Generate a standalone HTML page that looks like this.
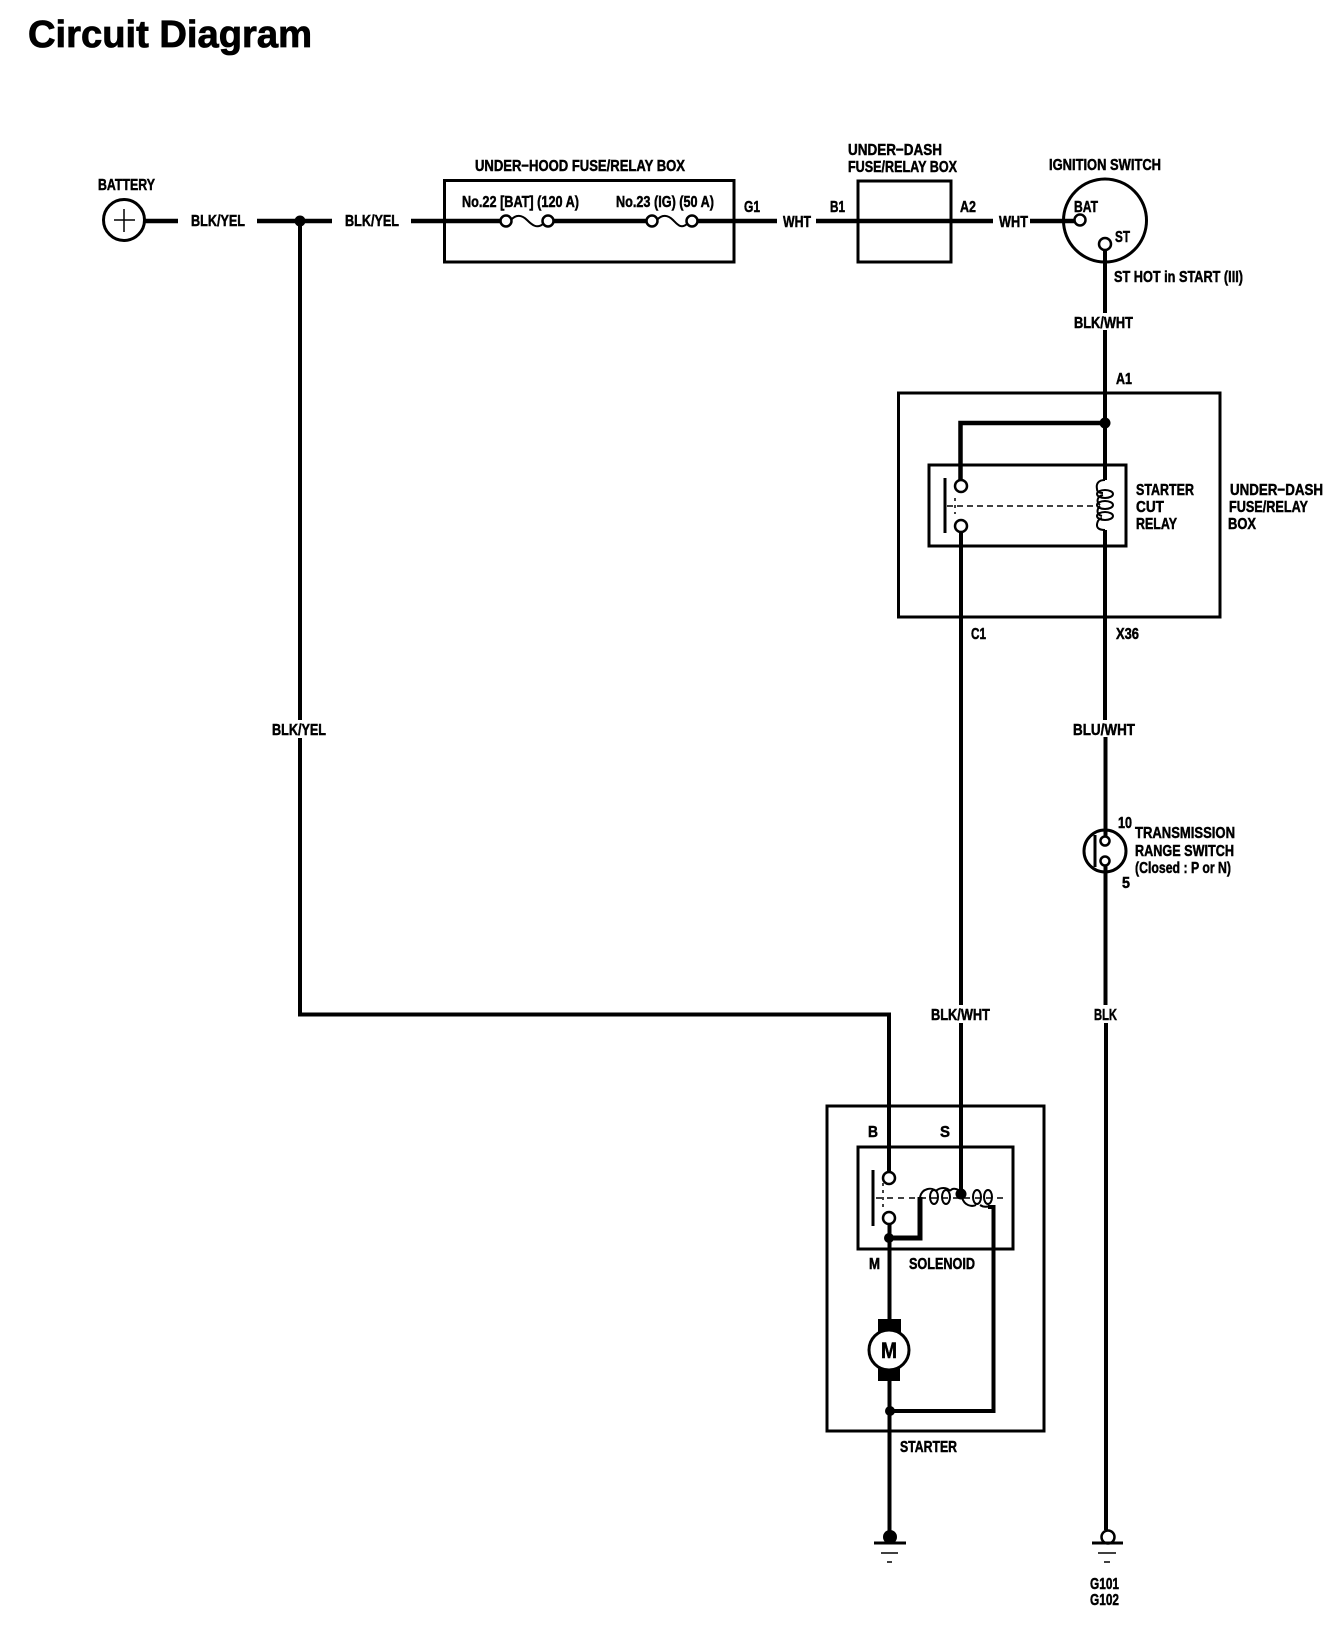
<!DOCTYPE html>
<html>
<head>
<meta charset="utf-8">
<style>
html,body{margin:0;padding:0;background:#fff;width:1344px;height:1646px;overflow:hidden}
svg{display:block}
text{font-family:"Liberation Sans",sans-serif;font-weight:700;font-size:16px;fill:#000;stroke:#000;stroke-width:.5}
.w{stroke:#000;stroke-width:4;fill:none}
.b{stroke:#000;stroke-width:3;fill:none}
.t{stroke:#000;stroke-width:2;fill:none}
.c{stroke:#000;stroke-width:2.5;fill:#fff}
.d{fill:#000}
</style>
</head>
<body>
<svg width="1344" height="1646" viewBox="0 0 1344 1646" xmlns="http://www.w3.org/2000/svg">
<rect width="1344" height="1646" fill="#fff"/>
<text x="28" y="47" style="font-size:38px;stroke-width:.8" textLength="284" lengthAdjust="spacingAndGlyphs">Circuit Diagram</text>

<!-- boxes -->
<rect class="b" x="444.5" y="180.500" width="289.5" height="81.500"/>
<rect class="b" x="858" y="181" width="93" height="81"/>
<circle class="b" cx="1105" cy="220.5" r="41.5"/>
<rect class="b" x="898.500" y="393" width="321.500" height="224"/>
<rect class="b" x="929" y="465" width="197" height="81"/>
<rect class="b" x="827" y="1106" width="217" height="325"/>
<rect class="b" x="858" y="1147" width="155" height="102"/>

<!-- battery -->
<circle class="b" cx="124" cy="220" r="20.5"/>
<path stroke="#000" stroke-width="1.5" fill="none" d="M114 220H135M124 209V232"/>

<!-- top main wire -->
<path stroke="#000" stroke-width="4.500" fill="none" d="M145 221H178M257 221H332M411 221H501M553 221H646M697 221H777M816 221H993M1030 221H1075"/>
<circle class="d" cx="300" cy="221" r="5.500"/>
<circle class="c" cx="506" cy="221" r="5.5"/>
<circle class="c" cx="548" cy="221" r="5.5"/>
<path class="t" stroke-width="2.5" d="M511 220C516 214 522 215 527 220S537 229 543 224"/>
<circle class="c" cx="652" cy="221" r="5.5"/>
<circle class="c" cx="692" cy="221" r="5.5"/>
<path class="t" stroke-width="2.5" d="M657 220C662 214 668 215 673 220S681 229 687 224"/>

<!-- long BLK/YEL -->
<path class="w" d="M300 221V720M300 738V1014.500H889V1173"/>

<!-- ignition -->
<circle class="c" cx="1080" cy="220" r="5.5"/>
<circle class="c" cx="1105" cy="244" r="6"/>
<path class="w" d="M1105 250V313M1105 330V480"/>

<!-- relay -->
<path stroke="#000" stroke-width="4.500" fill="none" d="M1105 423H960.500V481"/>
<circle class="d" cx="1105" cy="423" r="5.5"/>
<circle class="c" cx="961" cy="486" r="6"/>
<circle class="c" cx="961" cy="526" r="6"/>
<path class="b" d="M945 478V533"/>
<path stroke="#000" stroke-width="1.5" fill="none" stroke-dasharray="6 4" d="M947 506H1097"/>
<path stroke="#000" stroke-width="1.5" fill="none" stroke-dasharray="3 4" d="M955 498V514"/>
<path class="t" d="M1105 480C1098 480 1096 484 1097 489C1097 492 1099 493 1103 493M1103 495C1097 496 1096 502 1100 505M1100 506C1096 510 1097 515 1102 516M1102 518C1097 519 1096 526 1098 528C1100 530 1103 530 1105 530"/>
<ellipse class="t" cx="1105" cy="494" rx="8" ry="4"/>
<ellipse class="t" cx="1105" cy="505" rx="8" ry="4"/>
<ellipse class="t" cx="1105" cy="516" rx="8" ry="4"/>
<path class="w" d="M1105 530V720M1105.500 737V836M1105.500 866V1005M1106 1023V1530"/>
<path class="w" d="M961 532V1005M961 1023V1194"/>

<!-- transmission switch -->
<circle class="b" cx="1105" cy="851" r="21"/>
<path class="b" d="M1095 835V867"/>
<circle class="c" cx="1105" cy="841" r="4.500"/>
<circle class="c" cx="1105" cy="861" r="4.500"/>

<!-- solenoid -->
<circle class="c" cx="889" cy="1178" r="6"/>
<circle class="c" cx="889" cy="1218" r="6"/>
<path class="b" d="M873 1170V1226"/>
<path stroke="#000" stroke-width="1.5" fill="none" stroke-dasharray="6 5" d="M876 1198H1003"/>
<path stroke="#000" stroke-width="1.5" fill="none" stroke-dasharray="3 4" d="M883 1183V1211"/>
<path stroke="#000" stroke-width="5" fill="none" d="M889 1238H920V1197"/>
<path class="w" d="M889.500 1224V1319M889.500 1381V1532"/>
<circle class="d" cx="889" cy="1238" r="5"/>
<circle class="d" cx="961" cy="1194" r="5.500"/>
<path class="t" d="M920 1197C922 1188 932 1187 936 1191M936 1191C940 1187 947 1187 950 1191M950 1191C953 1187 959 1189 961 1193M962 1197C964 1206 972 1207 976 1205M980 1205C983 1207 987 1207 990 1206"/>
<ellipse class="t" cx="934" cy="1197" rx="4" ry="7"/>
<ellipse class="t" cx="946" cy="1197" rx="4" ry="7"/>
<ellipse class="t" cx="977" cy="1197" rx="4" ry="7"/>
<ellipse class="t" cx="988" cy="1197" rx="4" ry="7"/>
<path class="w" d="M988 1207H993.500V1411H890"/>
<circle class="d" cx="890" cy="1411" r="5"/>

<!-- motor -->
<rect class="d" x="878" y="1319" width="23" height="14"/>
<rect class="d" x="878" y="1367" width="22" height="14"/>
<circle cx="889" cy="1350" r="20" fill="#fff" stroke="#000" stroke-width="3"/>
<text x="881" y="1358" style="font-size:22px" textLength="16" lengthAdjust="spacingAndGlyphs">M</text>

<!-- grounds -->
<circle class="d" cx="890" cy="1537" r="7"/>
<circle class="c" cx="1108" cy="1537" r="6.500"/>
<path class="b" d="M874 1543H906M1092 1543H1123"/>
<path stroke="#000" stroke-width="1.5" fill="none" d="M881 1553H898M887 1562H892M1098 1553H1116M1104 1562H1110"/>

<!-- labels -->
<g transform="translate(0,-1)">
<text x="98" y="191" textLength="57" lengthAdjust="spacingAndGlyphs">BATTERY</text>
<text x="191" y="227" textLength="54" lengthAdjust="spacingAndGlyphs">BLK/YEL</text>
<text x="345" y="227" textLength="54" lengthAdjust="spacingAndGlyphs">BLK/YEL</text>
<text x="475" y="172" textLength="210" lengthAdjust="spacingAndGlyphs">UNDER−HOOD FUSE/RELAY BOX</text>
<text x="462" y="208" textLength="117" lengthAdjust="spacingAndGlyphs">No.22 [BAT] (120 A)</text>
<text x="616" y="208" textLength="98" lengthAdjust="spacingAndGlyphs">No.23 (IG) (50 A)</text>
<text x="744" y="213" textLength="16" lengthAdjust="spacingAndGlyphs">G1</text>
<text x="783" y="228" textLength="28" lengthAdjust="spacingAndGlyphs">WHT</text>
<text x="830" y="213" textLength="15" lengthAdjust="spacingAndGlyphs">B1</text>
<text x="960" y="213" textLength="16" lengthAdjust="spacingAndGlyphs">A2</text>
<text x="999" y="228" textLength="29" lengthAdjust="spacingAndGlyphs">WHT</text>
<text x="848" y="156" textLength="94" lengthAdjust="spacingAndGlyphs">UNDER−DASH</text>
<text x="848" y="173" textLength="109" lengthAdjust="spacingAndGlyphs">FUSE/RELAY BOX</text>
<text x="1049" y="171" textLength="112" lengthAdjust="spacingAndGlyphs">IGNITION SWITCH</text>
<text x="1074" y="213" textLength="24" lengthAdjust="spacingAndGlyphs">BAT</text>
<text x="1115" y="243" textLength="15" lengthAdjust="spacingAndGlyphs">ST</text>
<text x="1114" y="283" textLength="129" lengthAdjust="spacingAndGlyphs">ST HOT in START (III)</text>
<text x="1074" y="329" textLength="59" lengthAdjust="spacingAndGlyphs">BLK/WHT</text>
<text x="1116" y="385" textLength="16" lengthAdjust="spacingAndGlyphs">A1</text>
<text x="1136" y="496" textLength="58" lengthAdjust="spacingAndGlyphs">STARTER</text>
<text x="1136" y="513" textLength="28" lengthAdjust="spacingAndGlyphs">CUT</text>
<text x="1136" y="530" textLength="41" lengthAdjust="spacingAndGlyphs">RELAY</text>
<text x="1230" y="496" textLength="93" lengthAdjust="spacingAndGlyphs">UNDER−DASH</text>
<text x="1229" y="513" textLength="79" lengthAdjust="spacingAndGlyphs">FUSE/RELAY</text>
<text x="1228" y="530" textLength="28" lengthAdjust="spacingAndGlyphs">BOX</text>
<text x="971" y="640" textLength="15" lengthAdjust="spacingAndGlyphs">C1</text>
<text x="1116" y="640" textLength="23" lengthAdjust="spacingAndGlyphs">X36</text>
<text x="272" y="736" textLength="54" lengthAdjust="spacingAndGlyphs">BLK/YEL</text>
<text x="1073" y="736" textLength="62" lengthAdjust="spacingAndGlyphs">BLU/WHT</text>
<text x="1118" y="829" textLength="14" lengthAdjust="spacingAndGlyphs">10</text>
<text x="1135" y="839" textLength="100" lengthAdjust="spacingAndGlyphs">TRANSMISSION</text>
<text x="1135" y="857" textLength="99" lengthAdjust="spacingAndGlyphs">RANGE SWITCH</text>
<text x="1135" y="874" textLength="96" lengthAdjust="spacingAndGlyphs">(Closed : P or N)</text>
<text x="1122" y="889" textLength="8" lengthAdjust="spacingAndGlyphs">5</text>
<text x="931" y="1021" textLength="59" lengthAdjust="spacingAndGlyphs">BLK/WHT</text>
<text x="1094" y="1021" textLength="23" lengthAdjust="spacingAndGlyphs">BLK</text>
<text x="868" y="1138" textLength="10" lengthAdjust="spacingAndGlyphs">B</text>
<text x="940" y="1138" textLength="10" lengthAdjust="spacingAndGlyphs">S</text>
<text x="869" y="1270" textLength="11" lengthAdjust="spacingAndGlyphs">M</text>
<text x="909" y="1270" textLength="66" lengthAdjust="spacingAndGlyphs">SOLENOID</text>
<text x="900" y="1453" textLength="57" lengthAdjust="spacingAndGlyphs">STARTER</text>
<text x="1090" y="1590" textLength="29" lengthAdjust="spacingAndGlyphs">G101</text>
<text x="1090" y="1606" textLength="29" lengthAdjust="spacingAndGlyphs">G102</text>
</g>
</svg>
</body>
</html>
